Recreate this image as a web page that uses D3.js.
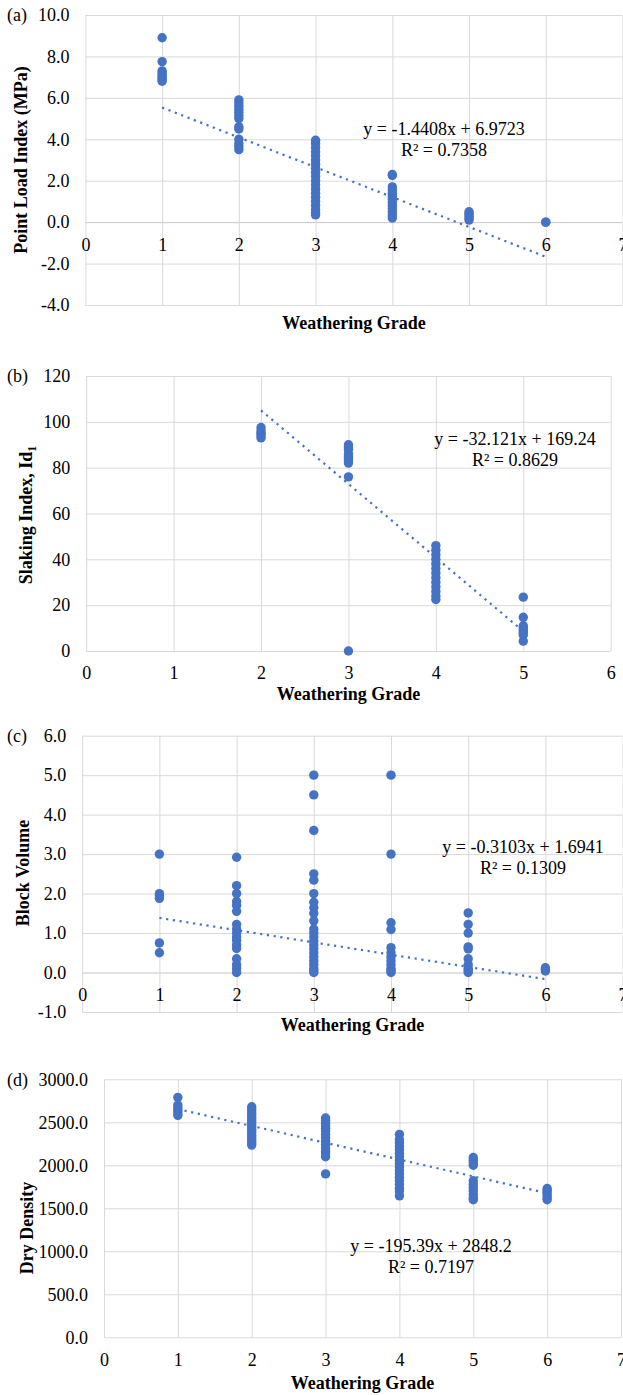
<!DOCTYPE html>
<html>
<head>
<meta charset="utf-8">
<script src="https://cdn.jsdelivr.net/npm/d3@7"></script>
<style>
  body { margin: 0; background: #fff; }
  svg { display: block; }
  text { font-family: "Liberation Serif", "Times New Roman", serif; fill: #000; }
</style>
</head>
<body>
<svg id="chart" width="623" height="1395"></svg>
<script>
// ---- data ----
// (a) Point load index by weathering grade
const pointLoadGrades = [1, 2, 3, 4, 5, 6];
const pointLoadValues = [
  [8.9, 7.75, 7.3, 7.2, 7.1, 7.0, 6.9, 6.8],
  [5.9, 5.75, 5.6, 5.45, 5.3, 5.15, 5.0, 4.6, 4.5, 4.0, 3.8, 3.65, 3.5],
  [3.95, 3.8, 3.6, 3.4, 3.2, 3.0, 2.8, 2.6, 2.4, 2.2, 2.0, 1.8, 1.6, 1.4, 1.2, 1.0, 0.8, 0.6, 0.45, 0.35],
  [2.3, 2.25, 1.7, 1.55, 1.4, 1.25, 1.1, 0.95, 0.8, 0.65, 0.5, 0.35, 0.2],
  [0.5, 0.4, 0.3, 0.2, 0.1],
  [0.0, 0.0]
];
const pointLoadTrend = [-1.4408, 6.9723];
const pointLoadTrendX = [1, 6];
const pointLoadEq = ["y = -1.4408x + 6.9723", "R² = 0.7358"];
const pointLoadYTicks = [-4, -2, 0, 2, 4, 6, 8, 10];

// (b) Slaking index
const slakingGrades = [2, 3, 4, 5];
const slakingValues = [
  [97.5, 96, 95, 94, 93],
  [90, 89, 88, 86, 85, 84, 83, 82, 76, 0],
  [46, 44, 42, 40, 38, 36, 34, 32, 30, 28, 26, 24, 22.5],
  [23.5, 14.7, 11, 10, 9, 8, 7, 4.3]
];
const slakingTrend = [-32.121, 169.24];
const slakingTrendX = [2, 5];
const slakingEq = ["y = -32.121x + 169.24", "R² = 0.8629"];
const slakingYTicks = [0, 20, 40, 60, 80, 100, 120];

// (c) Block volume
const blockGrades = [1, 2, 3, 4, 5, 6];
const blockValues = [
  [3.0, 2.0, 1.95, 1.88, 0.75, 0.5],
  [2.92, 2.2, 2.0, 1.8, 1.7, 1.55, 1.22, 1.1, 1.0, 0.9, 0.82, 0.7, 0.61, 0.35, 0.2, 0.1, 0.0],
  [5.0, 4.5, 3.6, 2.5, 2.34, 2.0, 1.78, 1.64, 1.5, 1.31, 1.1, 1.0, 0.9, 0.8, 0.7, 0.6, 0.5, 0.4, 0.3, 0.2, 0.1, 0.05, 0.0],
  [5.0, 3.0, 1.26, 1.09, 0.63, 0.5, 0.4, 0.3, 0.2, 0.1, 0.05, 0.0],
  [1.51, 1.22, 1.0, 0.65, 0.6, 0.35, 0.2, 0.1, 0.05, 0.0],
  [0.12, 0.08, 0.04]
];
const blockTrend = [-0.3103, 1.6941];
const blockTrendX = [1, 6];
const blockEq = ["y = -0.3103x + 1.6941", "R² = 0.1309"];
const blockYTicks = [-1, 0, 1, 2, 3, 4, 5, 6];

// (d) Dry density
const densityGrades = [1, 2, 3, 4, 5, 6];
const densityValues = [
  [2790, 2700, 2670, 2640, 2610, 2580],
  [2680, 2650, 2620, 2590, 2560, 2530, 2500, 2470, 2440, 2410, 2380, 2350, 2320, 2290, 2260, 2235],
  [2550, 2520, 2490, 2460, 2430, 2400, 2360, 2320, 2280, 2240, 2200, 2160, 2130, 2100, 1900],
  [2360, 2300, 2260, 2220, 2180, 2140, 2100, 2060, 2020, 1980, 1940, 1900, 1860, 1820, 1780, 1733, 1700, 1645],
  [2090, 2060, 2030, 2000, 1820, 1780, 1740, 1700, 1660, 1620, 1600],
  [1730, 1710, 1680, 1650, 1620, 1600]
];
const densityTrend = [-195.39, 2848.2];
const densityTrendX = [1, 6];
const densityEq = ["y = -195.39x + 2848.2", "R² = 0.7197"];
const densityYTicks = [0, 500, 1000, 1500, 2000, 2500, 3000];

const xTitle = "Weathering Grade";
const blue = "#4472C4";

// ---- panel layout ----
const panels = [
  {
    tag: "(a)", yTitle: ["Point Load Index (MPa)"], grades: pointLoadGrades, values: pointLoadValues,
    trend: pointLoadTrend, trendX: pointLoadTrendX, eq: pointLoadEq, yTicks: pointLoadYTicks, xMax: 7,
    fmt: d => d.toFixed(1),
    box: { left: 85.4, right: 622.5, top: 15, bottom: 305 },
    eqPos: [444, 135], titleY: 329, yTitlePos: [27, 160]
  },
  {
    tag: "(b)", yTitle: ["Slaking Index, Id", "1"], grades: slakingGrades, values: slakingValues,
    trend: slakingTrend, trendX: slakingTrendX, eq: slakingEq, yTicks: slakingYTicks, xMax: 6,
    fmt: d => String(d),
    box: { left: 86.2, right: 610.7, top: 376, bottom: 651 },
    eqPos: [515, 445], titleY: 700, yTitlePos: [32, 515]
  },
  {
    tag: "(c)", yTitle: ["Block Volume"], grades: blockGrades, values: blockValues,
    trend: blockTrend, trendX: blockTrendX, eq: blockEq, yTicks: blockYTicks, xMax: 7,
    fmt: d => d.toFixed(1),
    box: { left: 82.2, right: 622.6, top: 735.7, bottom: 1012 },
    eqPos: [523, 853], titleY: 1031, yTitlePos: [28.5, 873]
  },
  {
    tag: "(d)", yTitle: ["Dry Density"], grades: densityGrades, values: densityValues,
    trend: densityTrend, trendX: densityTrendX, eq: densityEq, yTicks: densityYTicks, xMax: 7,
    fmt: d => d.toFixed(1),
    box: { left: 104, right: 621, top: 1079.3, bottom: 1337.3 },
    eqPos: [431, 1252], titleY: 1389, yTitlePos: [33, 1228]
  }
];

const svg = d3.select("#chart");

function drawPanel(p) {
  const b = p.box;
  const g = svg.append("g");
  const yExt = d3.extent(p.yTicks);

  const x = d3.scaleLinear().domain([0, p.xMax]).range([b.left, b.right]);
  const y = d3.scaleLinear().domain(yExt).range([b.bottom, b.top]);

  // horizontal grid + y tick labels
  const yAx = g.append("g")
    .attr("transform", `translate(${b.left},0)`)
    .call(d3.axisLeft(y).tickValues(p.yTicks).tickSize(-(b.right - b.left)).tickPadding(16).tickFormat(p.fmt));
  yAx.select(".domain").remove();
  yAx.selectAll("line").attr("stroke", d => d === 0 && yExt[0] < 0 ? "#c6c6c6" : "#d9d9d9").attr("stroke-width", 1);

  // vertical grid
  const xGrid = g.append("g")
    .attr("transform", `translate(0,${b.bottom})`)
    .call(d3.axisBottom(x).tickValues(d3.range(0, p.xMax + 1)).tickSize(-(b.bottom - b.top)).tickFormat(""));
  xGrid.select(".domain").remove();
  xGrid.selectAll("line").attr("stroke", "#d9d9d9").attr("stroke-width", 1);

  // x tick labels sit under the zero line (Excel style)
  const xAx = g.append("g")
    .attr("transform", `translate(0,${y(0)})`)
    .call(d3.axisBottom(x).tickValues(d3.range(0, p.xMax + 1)).tickSize(0).tickPadding(15.7).tickFormat(d => String(d)));
  xAx.select(".domain").remove();

  g.selectAll(".tick text")
    .attr("font-family", null)
    .style("font-family", '"Liberation Serif", "Times New Roman", serif')
    .style("font-size", "18px")
    .attr("fill", "#000");
  [yAx, xGrid, xAx].forEach(a => a.attr("font-size", null).attr("font-family", null));

  // points
  const pts = [];
  p.grades.forEach((gr, i) => p.values[i].forEach(v => pts.push([gr, v])));
  g.append("g").selectAll("circle")
    .data(pts)
    .enter()
    .append("circle")
    .attr("cx", d => x(d[0]))
    .attr("cy", d => y(d[1]))
    .attr("r", 4.7)
    .attr("fill", blue);

  // linear trendline (dotted)
  const line = d3.line().x(d => x(d)).y(d => y(p.trend[0] * d + p.trend[1]));
  g.append("path")
    .datum(p.trendX)
    .attr("d", line)
    .attr("fill", "none")
    .attr("stroke", blue)
    .attr("stroke-width", 2.2)
    .attr("stroke-dasharray", "2.2,4.6");

  // equation
  g.selectAll(".eq")
    .data(p.eq)
    .enter()
    .append("text")
    .attr("x", p.eqPos[0])
    .attr("y", (d, i) => p.eqPos[1] + i * 21)
    .attr("text-anchor", "middle")
    .style("font-size", "18px")
    .text(d => d);

  // panel tag
  g.append("text")
    .attr("x", 7)
    .attr("y", b.top + 6.3)
    .style("font-size", "18px")
    .text(p.tag);

  // x title
  g.append("text")
    .attr("x", (b.left + b.right) / 2)
    .attr("y", p.titleY)
    .attr("text-anchor", "middle")
    .style("font-size", "18px")
    .style("font-weight", "bold")
    .text(xTitle);

  // y title
  const yt = g.append("text")
    .attr("transform", `translate(${p.yTitlePos[0]},${p.yTitlePos[1]}) rotate(-90)`)
    .attr("text-anchor", "middle")
    .style("font-size", "18px")
    .style("font-weight", "bold");
  yt.append("tspan").text(p.yTitle[0]);
  if (p.yTitle[1]) {
    yt.append("tspan").attr("dy", 4).style("font-size", "12px").text(p.yTitle[1]);
  }
}

panels.forEach(drawPanel);
</script>
</body>
</html>
